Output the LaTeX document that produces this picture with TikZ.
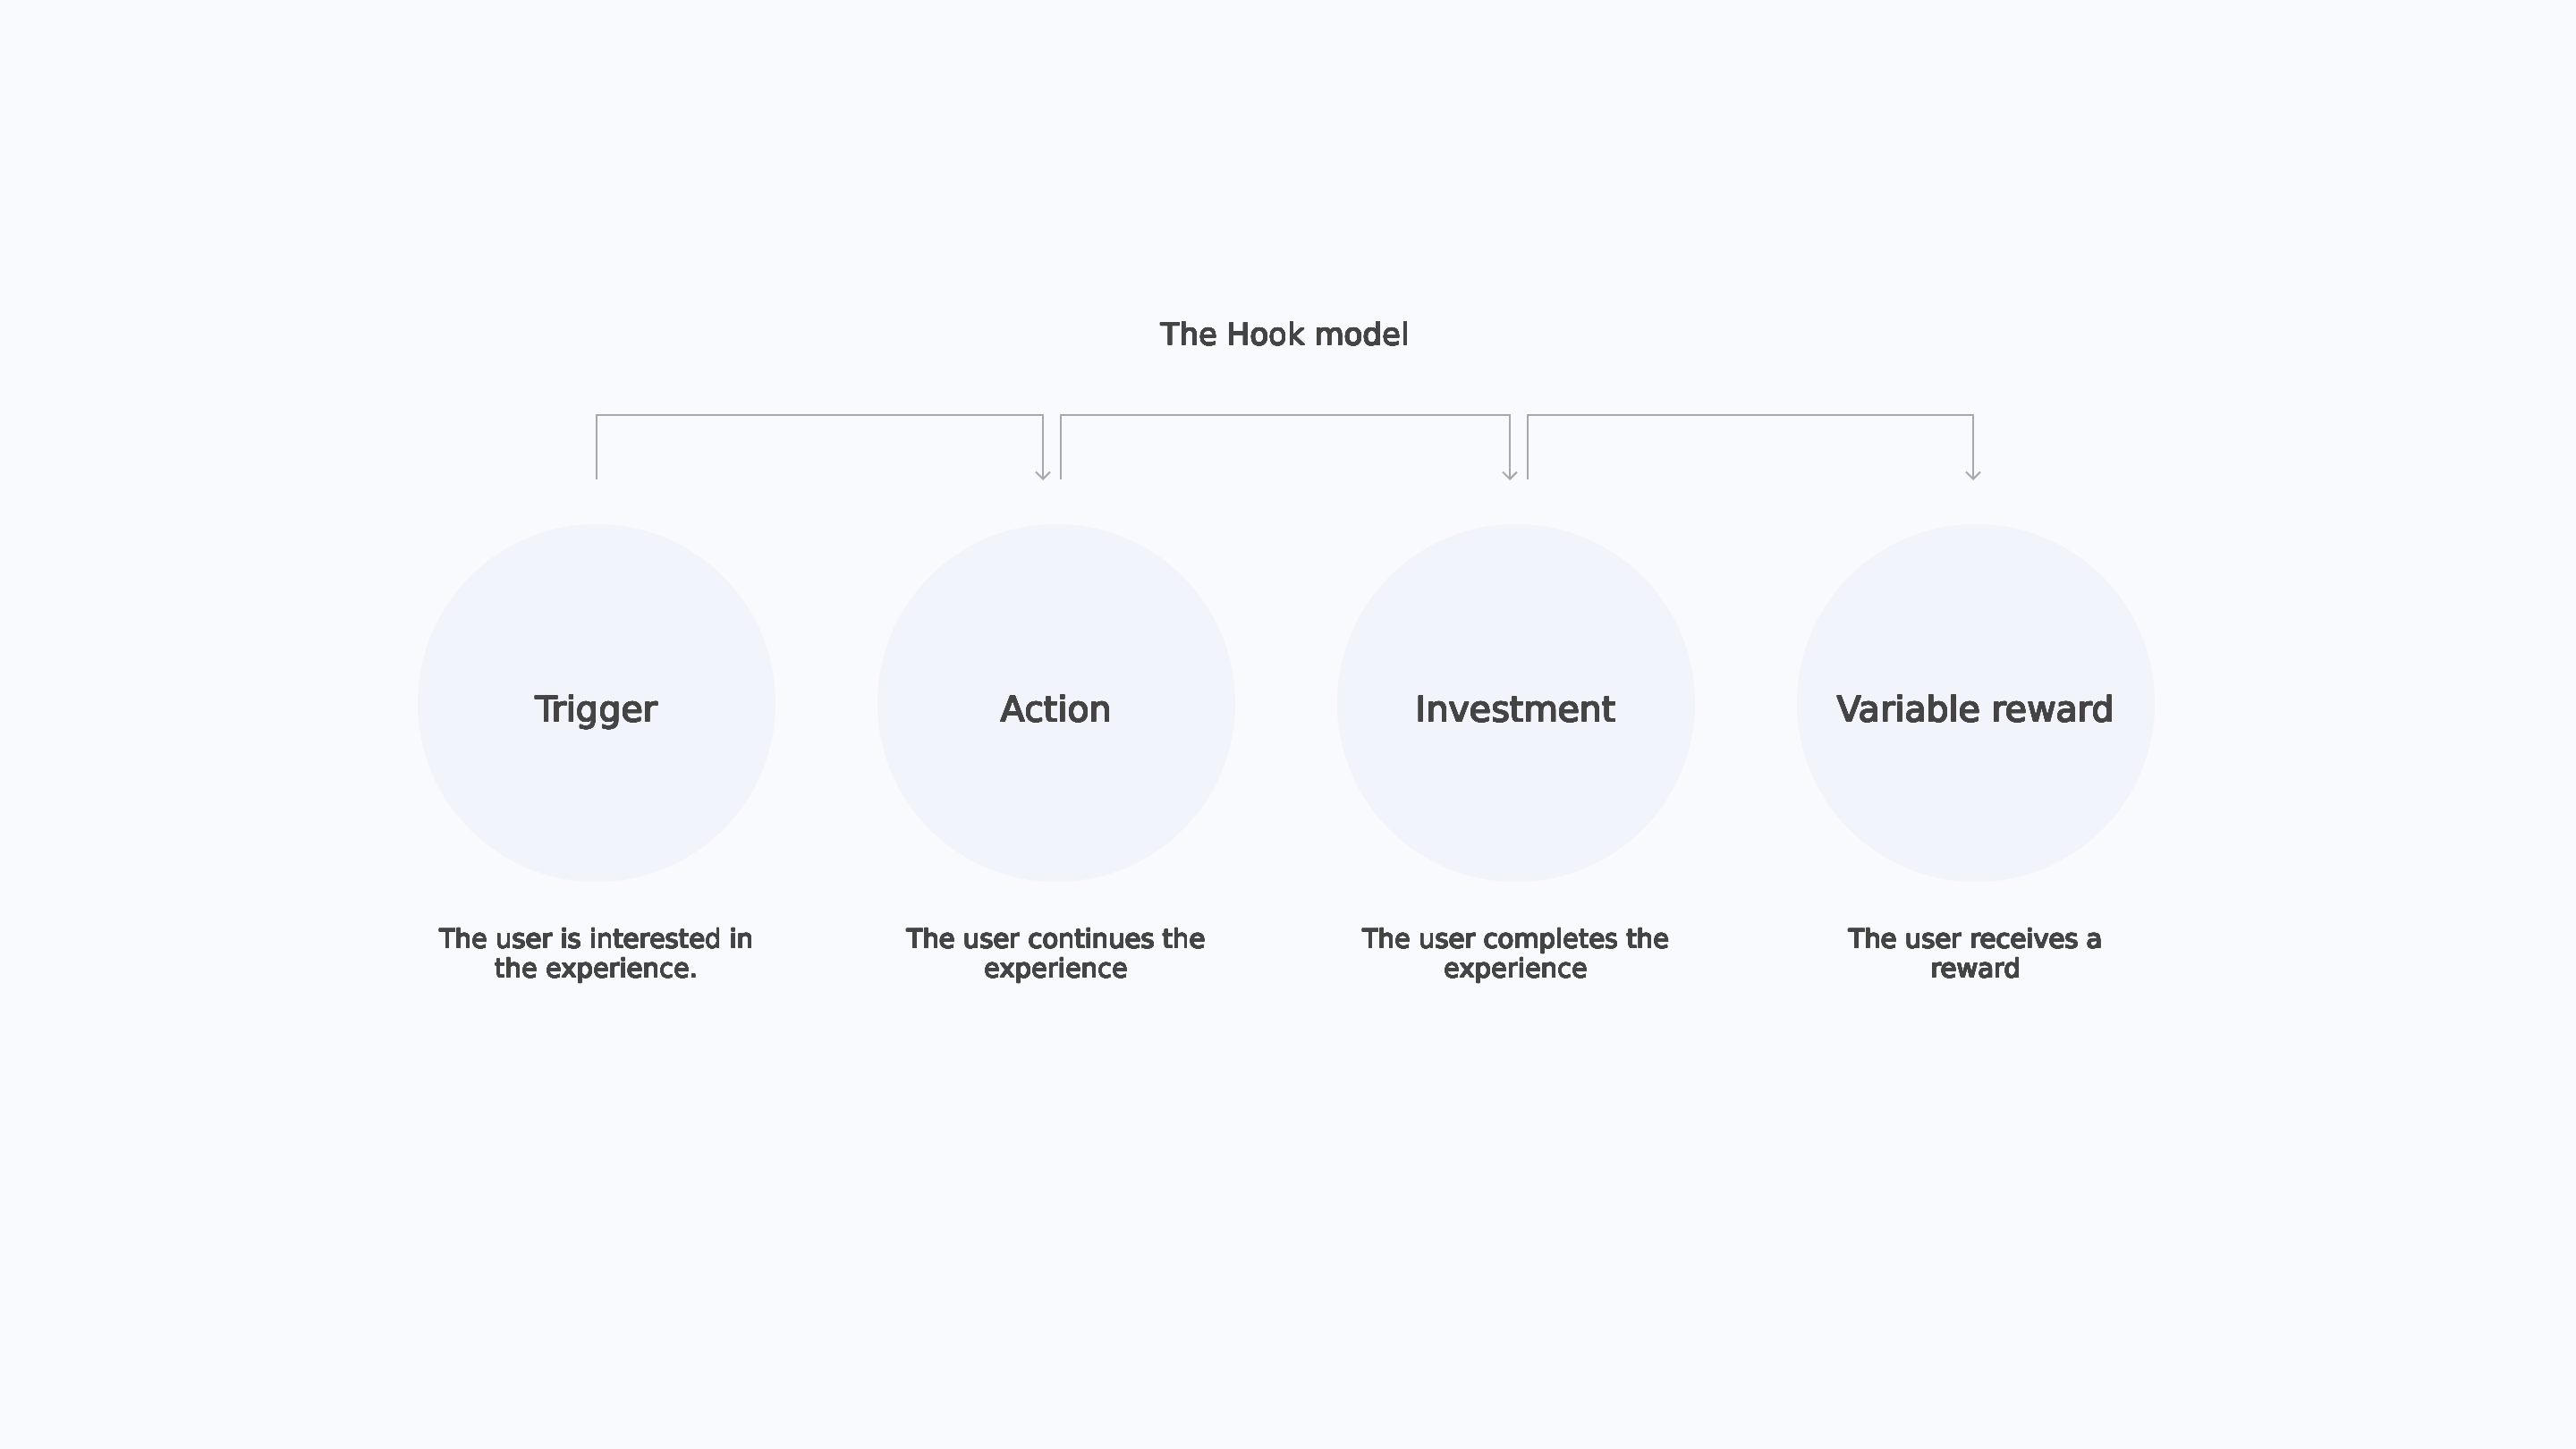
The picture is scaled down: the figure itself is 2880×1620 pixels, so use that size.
\documentclass[tikz,border=0pt]{standalone}
\usepackage{fontspec}
\setmainfont{DejaVu Sans}
\usepackage[copies]{contour}
\contournumber{24}
\usetikzlibrary{arrows.meta}
\definecolor{bg}{HTML}{F9FAFE}
\definecolor{circ}{HTML}{F2F4FC}
\definecolor{ink}{HTML}{444444}
\definecolor{conn}{HTML}{A8A8A8}
\newcommand{\heavyL}[1]{\contourlength{0.25pt}\contour{ink}{#1}}
\newcommand{\heavyD}[1]{\contourlength{0.17pt}\contour{ink}{#1}}
\newcommand{\heavyT}[1]{\contourlength{0.15pt}\contour{ink}{#1}}
\begin{document}
\begin{tikzpicture}[x=0.5pt,y=-0.5pt,
  stage/.style={circle,fill=circ,minimum size=200pt,inner sep=0pt},
  stagelabel/.style={font=\fontsize{19.75}{24}\selectfont,text=ink,anchor=base,inner sep=0pt},
  desc/.style={font=\fontsize{14.5}{16.5}\selectfont,text=ink,align=center,anchor=base,inner sep=0pt},
  titlestyle/.style={font=\fontsize{17}{20}\selectfont,text=ink,anchor=base,inner sep=0pt},
  link/.style={draw=conn,line width=1pt,-{Straight Barb[length=4pt,width=8pt]}}]
\fill[bg] (0,0) rectangle (2880,1620);
\useasboundingbox (0,0) rectangle (2880,1620);

\node[titlestyle] (title) at (1437,386) {\heavyT{The Hook model}};

\node[stage] (c1) at (667,786) {};
\node[stage] (c2) at (1181,786) {};
\node[stage] (c3) at (1695,786) {};
\node[stage] (c4) at (2209,786) {};

\node[stagelabel] (l1) at (667,807) {\heavyL{Trigger}};
\node[stagelabel] (l2) at (1181,807) {\heavyL{Action}};
\node[stagelabel] (l3) at (1695,807) {\heavyL{Investment}};
\node[stagelabel] (l4) at (2209,807) {\heavyL{Variable reward}};

\node[desc] (d1) at (667,1093) {\heavyD{The user is interested in}\\\heavyD{the experience.}};
\node[desc] (d2) at (1181,1093) {\heavyD{The user continues the}\\\heavyD{experience}};
\node[desc] (d3) at (1695,1093) {\heavyD{The user completes the}\\\heavyD{experience}};
\node[desc] (d4) at (2209,1093) {\heavyD{The user receives a}\\\heavyD{reward}};

\coordinate (a1) at (667,536);
\coordinate (b1) at (1166,537);
\coordinate (a2) at (1186,536);
\coordinate (b2) at (1688,537);
\coordinate (a3) at (1708,536);
\coordinate (b3) at (2206,537);

\draw[link] (a1) -- ++(0,-72) -| (b1);
\draw[link] (a2) -- ++(0,-72) -| (b2);
\draw[link] (a3) -- ++(0,-72) -| (b3);
\end{tikzpicture}
\end{document}
